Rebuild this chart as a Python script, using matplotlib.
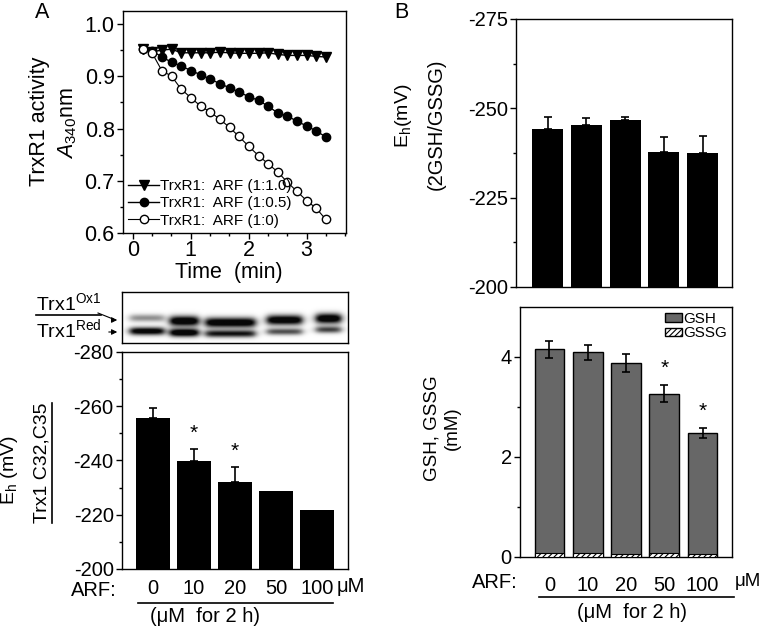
import numpy as np
import matplotlib
matplotlib.use("Agg")
import matplotlib.pyplot as plt
from matplotlib.lines import Line2D
from matplotlib.patches import Patch

plt.rcParams['font.family'] = ['Liberation Sans', 'DejaVu Sans']
plt.rcParams['mathtext.fontset'] = 'custom'
plt.rcParams['mathtext.rm'] = 'Liberation Sans'
plt.rcParams['mathtext.it'] = 'Liberation Sans:italic'
plt.rcParams['axes.unicode_minus'] = False
plt.rcParams['hatch.linewidth'] = 0.8

# ---- data: panel A, TrxR1 activity (A340nm) ----
time_min = [0.17, 0.33, 0.50, 0.67, 0.83, 1.00, 1.17, 1.33, 1.50, 1.67,
            1.83, 2.00, 2.17, 2.33, 2.50, 2.67, 2.83, 3.00, 3.17, 3.33]
arf_1_10 = [0.953, 0.947, 0.950, 0.952, 0.945, 0.945, 0.945, 0.945, 0.946, 0.945,
            0.944, 0.944, 0.944, 0.945, 0.942, 0.940, 0.940, 0.940, 0.938, 0.937]
arf_1_05 = [0.953, 0.949, 0.937, 0.927, 0.920, 0.911, 0.903, 0.895, 0.886, 0.878,
            0.870, 0.861, 0.854, 0.843, 0.830, 0.824, 0.814, 0.805, 0.795, 0.784]
arf_1_0 = [0.953, 0.945, 0.911, 0.900, 0.876, 0.859, 0.843, 0.832, 0.818, 0.802,
           0.785, 0.766, 0.748, 0.733, 0.717, 0.697, 0.680, 0.662, 0.647, 0.626]

# ---- data: panel A, Trx1 redox potential ----
arf_doses = ['0', '10', '20', '50', '100']
trx_eh = [-255.6, -239.9, -231.9, -228.9, -221.8]
trx_err = [3.9, 4.2, 5.6, 0, 0]
trx_sig = [False, True, True, False, False]

# western blot band strengths per lane (Ox1 upper band, Red lower band)
blot_lane_x = [0.11, 0.275, 0.48, 0.72, 0.915]
blot_lane_w = [0.15, 0.125, 0.22, 0.155, 0.11]
blot_ox = [0.35, 1.0, 0.95, 0.95, 1.0]
blot_red = [0.9, 1.0, 0.75, 0.55, 0.6]
blot_ox_row = [0.51, 0.57, 0.60, 0.55, 0.52]
blot_red_row = [0.77, 0.80, 0.82, 0.78, 0.74]

# ---- data: panel B ----
gsh_eh = [-244.2, -245.3, -246.6, -237.8, -237.5]
gsh_eh_err = [3.3, 2.1, 0.9, 4.2, 4.7]
gsh = [4.16, 4.10, 3.88, 3.27, 2.49]
gsh_err = [0.17, 0.15, 0.18, 0.17, 0.10]
gssg = [0.08, 0.08, 0.06, 0.08, 0.06]
gsh_sig = [False, False, False, True, True]

W, H = 760, 632
fig = plt.figure(figsize=(W / 100, H / 100), dpi=100)


def rect(x0, y0, x1, y1):
    return [x0 / W, 1 - y1 / H, (x1 - x0) / W, (y1 - y0) / H]


def ftext(x, y, s, **kw):
    return fig.text(x / W, 1 - y / H, s, **kw)


def style(ax, size):
    for sp in ax.spines.values():
        sp.set_linewidth(1.0)
    ax.tick_params(which='major', direction='out', length=4, width=1, labelsize=size)
    ax.tick_params(which='minor', direction='out', length=2.5, width=1)


# ===== A top: activity curves =====
ax1 = fig.add_axes(rect(123, 11, 346, 233))
ax1.plot(time_min, arf_1_10, '-v', color='black', lw=1, ms=6.5, label='TrxR1:  ARF (1:1.0)')
ax1.plot(time_min, arf_1_05, '-o', color='black', lw=1, ms=6, label='TrxR1:  ARF (1:0.5)')
ax1.plot(time_min, arf_1_0, '-o', color='black', mfc='white', lw=0.8, ms=6, label='TrxR1:  ARF (1:0)')
ax1.set_xlim(-0.17, 3.68)
ax1.set_ylim(0.6, 1.025)
ax1.set_xticks([0, 1, 2, 3])
ax1.set_xticks(np.arange(0, 3.7, 1 / 3), minor=True)
ax1.set_yticks([0.6, 0.7, 0.8, 0.9, 1.0])
ax1.set_yticks([0.65, 0.75, 0.85, 0.95], minor=True)
ax1.set_yticklabels(['0.6', '0.7', '0.8', '0.9', '1.0'])
style(ax1, 15.5)
ax1.tick_params(axis='y', pad=2)
ax1.tick_params(axis='x', pad=1)
ax1.legend(loc='lower left', frameon=False, fontsize=11, handlelength=2.0,
           handletextpad=0.1, labelspacing=0.22, borderaxespad=0.3, borderpad=0.05,
           numpoints=1)
ftext(229, 272, 'Time  (min)', fontsize=15.5, ha='center', va='center')
ftext(39, 121, 'TrxR1 activity', fontsize=15.5, rotation=90, ha='center', va='center')
ftext(68, 123, r'$\mathit{A}_{340}$nm', fontsize=15.5, rotation=90, ha='center', va='center')
ftext(42, 12, 'A', fontsize=15.5, ha='center', va='center')

# ===== A middle: blot =====
axb = fig.add_axes(rect(122, 292, 348, 343))
gx = np.linspace(0, 1, 400)
gy = np.linspace(0, 1, 100)
X, Y = np.meshgrid(gx, gy)
dark = np.zeros_like(X)
for cx, w, ox, rd, oy, ry in zip(blot_lane_x, blot_lane_w, blot_ox, blot_red,
                                 blot_ox_row, blot_red_row):
    prof = 0.5 * (np.tanh((X - (cx - w / 2)) / 0.02) - np.tanh((X - (cx + w / 2)) / 0.02))
    dark += ox * prof * np.exp(-((Y - oy) / (0.06 + 0.04 * ox)) ** 2)
    dark += rd * prof * np.exp(-((Y - ry) / (0.05 + 0.03 * rd)) ** 2)
img = 1 - np.clip(1.3 * dark, 0, 1) * 0.97
axb.imshow(img, cmap='gray', vmin=0, vmax=1, extent=[0, 1, 1, 0], aspect='auto',
           interpolation='bilinear')
axb.set_xticks([])
axb.set_yticks([])
for sp in axb.spines.values():
    sp.set_linewidth(1.0)

t_ox = ftext(36, 310, r'Trx1$^{\mathrm{Ox1}}$', fontsize=14, ha='left', va='baseline')
ftext(36, 337, r'Trx1$^{\mathrm{Red}}$', fontsize=14, ha='left', va='baseline')
fig.add_artist(Line2D([98 / W, 113 / W], [1 - 313 / H, 1 - 319 / H], color='black', lw=0.8))
fig.add_artist(plt.Annotation('', xy=(120 / W, 1 - 320 / H), xytext=(111 / W, 1 - 320 / H),
                              xycoords='figure fraction',
                              arrowprops=dict(arrowstyle='-|>', color='black', lw=0.8,
                                              mutation_scale=8)))
fig.add_artist(plt.Annotation('', xy=(120 / W, 1 - 332 / H), xytext=(106 / W, 1 - 332 / H),
                              xycoords='figure fraction',
                              arrowprops=dict(arrowstyle='-|>', color='black', lw=0.8,
                                              mutation_scale=8)))

# ===== A bottom: Trx1 Eh bars =====
ax2 = fig.add_axes(rect(122, 352, 348, 569))
xpos = np.arange(len(arf_doses))
ax2.bar(xpos, np.array(trx_eh) + 200, bottom=-200, width=0.83, color='black', zorder=2)
has_err = np.array(trx_err) > 0
ax2.errorbar(xpos[has_err], np.array(trx_eh)[has_err],
             yerr=[np.array(trx_err)[has_err], np.zeros(has_err.sum())], fmt='none',
             ecolor='black', elinewidth=1.2, capsize=3, capthick=1.2, zorder=1)
for i, s in enumerate(trx_sig):
    if s:
        ax2.annotate('*', (xpos[i], trx_eh[i] - trx_err[i]), xytext=(0, 5),
                     textcoords='offset points', ha='center', va='bottom', fontsize=15)
ax2.set_xlim(-0.76, 4.76)
ax2.set_ylim(-200, -280)
ax2.set_yticks([-280, -260, -240, -220, -200])
ax2.set_yticks([-270, -250, -230, -210], minor=True)
ax2.set_xticks(xpos)
ax2.set_xticklabels(arf_doses)
style(ax2, 14.5)
ax2.tick_params(axis='x', length=0, pad=7)
ax2.tick_params(axis='y', pad=2)
ftext(117, 590, 'ARF:', fontsize=14.5, ha='right', va='center')
ftext(337, 586, 'μM', fontsize=14.5, ha='left', va='center')
fig.add_artist(Line2D([138 / W, 333 / W], [1 - 603 / H, 1 - 603 / H], color='black', lw=1.2))
ftext(205, 617, '(μM  for 2 h)', fontsize=14.5, ha='center', va='center')
ftext(10, 470, r'E$_{\mathrm{h}}$ (mV)', fontsize=14, rotation=90, ha='center', va='center')
t_trx = ftext(42, 463, 'Trx1 C32,C35', fontsize=14, rotation=90, ha='center', va='center')

# ===== B top: GSH/GSSG Eh =====
ax3 = fig.add_axes(rect(516, 19, 732, 287))
xb = np.arange(len(arf_doses))
ax3.bar(xb, np.array(gsh_eh) + 200, bottom=-200, width=0.8, color='black', zorder=2)
ax3.errorbar(xb, gsh_eh, yerr=[gsh_eh_err, np.zeros(5)], fmt='none', ecolor='black',
             elinewidth=1.2, capsize=3, capthick=1.2, zorder=1)
ax3.set_xlim(-0.82, 4.76)
ax3.set_ylim(-200, -275)
ax3.set_yticks([-275, -250, -225, -200])
ax3.set_yticks([-262.5, -237.5, -212.5], minor=True)
ax3.set_xticks([])
style(ax3, 14.5)
ax3.tick_params(axis='y', pad=2)
ftext(401, 12, 'B', fontsize=15.5, ha='center', va='center')
ftext(403, 116, r'E$_{\mathrm{h}}$(mV)', fontsize=14, rotation=90, ha='center', va='center')
ftext(436, 124, '(2GSH/GSSG)', fontsize=14.5, rotation=90, ha='center', va='center')

# ===== B bottom: GSH, GSSG levels =====
ax4 = fig.add_axes(rect(520, 307, 732, 557))
ax4.bar(xb, gsh, width=0.78, color='#676767', edgecolor='black', lw=1, label='GSH', zorder=2)
ax4.errorbar(xb, gsh, yerr=gsh_err, fmt='none', ecolor='black', elinewidth=1.2,
             capsize=3, capthick=1.2, zorder=3)
ax4.bar(xb, gssg, width=0.78, color='white', edgecolor='black', hatch='//////', lw=0.8,
        label='GSSG', zorder=3)
for i, s in enumerate(gsh_sig):
    if s:
        ax4.annotate('*', (xb[i], gsh[i] + gsh_err[i]), xytext=(0, 5),
                     textcoords='offset points', ha='center', va='bottom', fontsize=15)
ax4.set_xlim(-0.77, 4.77)
ax4.set_ylim(0, 5)
ax4.set_yticks([0, 2, 4])
ax4.set_yticks([1, 3], minor=True)
ax4.set_xticks(xb)
ax4.set_xticklabels(arf_doses)
style(ax4, 14.5)
ax4.tick_params(axis='x', length=0, pad=14)
ax4.tick_params(axis='y', pad=2)
ax4.legend(handles=[Patch(facecolor='#676767', edgecolor='black', label='GSH'),
                    Patch(facecolor='white', edgecolor='black', hatch='//////', label='GSSG')],
           loc='upper right', frameon=False, fontsize=11, handlelength=1.1, handleheight=0.5,
           handletextpad=0.1, labelspacing=0.05, borderaxespad=0.2, borderpad=0.1)
ftext(518, 583, 'ARF:', fontsize=14.5, ha='right', va='center')
ftext(735, 582, 'μM', fontsize=13.5, ha='left', va='center')
fig.add_artist(Line2D([539 / W, 734 / W], [1 - 597 / H, 1 - 597 / H], color='black', lw=1.2))
ftext(632, 613, '(μM  for 2 h)', fontsize=14.5, ha='center', va='center')
ftext(432, 428, 'GSH, GSSG', fontsize=13.5, rotation=90, ha='center', va='center')
ftext(452, 428, '(mM)', fontsize=13.5, rotation=90, ha='center', va='center')

# underlines for the two labelled texts
fig.canvas.draw()
r = fig.canvas.get_renderer()
inv = fig.transFigure.inverted()
bb = t_trx.get_window_extent(r)
(x0, y0), (x1, y1) = inv.transform([(bb.x0, bb.y0), (bb.x1, bb.y1)])
fig.add_artist(Line2D([x1 + 1.5 / W, x1 + 1.5 / W], [y0, y1], color='black', lw=1.2))
bb = t_ox.get_window_extent(r)
(x0, y0), (x1, y1) = inv.transform([(bb.x0, bb.y0), (bb.x1, bb.y1)])
fig.add_artist(Line2D([x0, x1], [y0 - 1 / H, y0 - 1 / H], color='black', lw=1.2))

fig.savefig('out.png', dpi=100)
